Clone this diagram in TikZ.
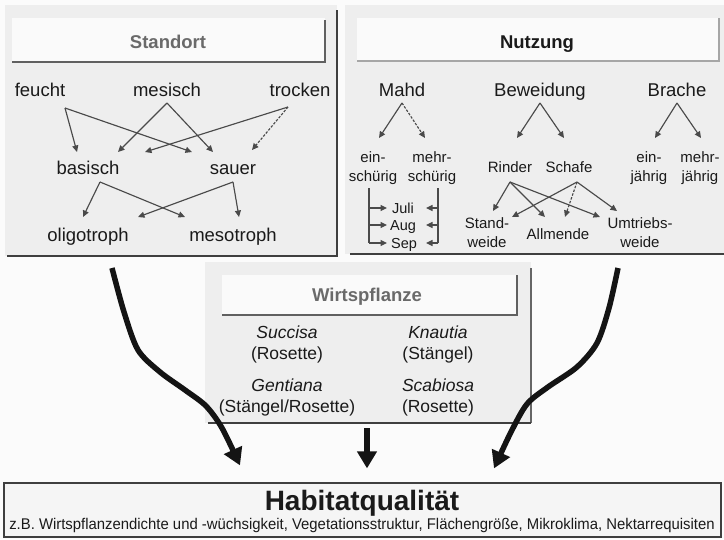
\documentclass[tikz,border=0pt]{standalone}
\usepackage{fontspec}
\setmainfont{Liberation Sans}
\usetikzlibrary{arrows.meta,calc}
\definecolor{bgc}{HTML}{FBFBFB}
\definecolor{panel}{HTML}{EEEEEE}
\definecolor{tbox}{HTML}{FAFAFA}
\definecolor{txt}{HTML}{1A1A1A}
\definecolor{arrc}{HTML}{4A4A4A}
\definecolor{edge}{HTML}{3F3F3F}
\definecolor{gtitle}{HTML}{6A6A6A}
\begin{document}
\begin{tikzpicture}[x=1pt,y=-1pt,
 lbl/.style={inner sep=0pt, text height=13.5pt, text depth=0pt, font=\fontsize{18.5}{22}\selectfont, text=txt},
 sml/.style={inner sep=0pt, align=center, font=\fontsize{15}{19}\selectfont, text=txt},
 smid/.style={inner sep=0pt, text height=11pt, text depth=0pt, font=\fontsize{15}{19}\selectfont, text=txt},
 tny/.style={inner sep=0pt, text height=10.5pt, text depth=0pt, font=\fontsize{14.5}{16}\selectfont, text=txt},
 spec/.style={inner sep=0pt, align=center, font=\fontsize{17.5}{21}\selectfont, text=txt},
 ttl/.style={inner sep=0pt, text height=13.5pt, text depth=0pt, font=\fontsize{18.5}{22}\selectfont\bfseries},
 arr/.style={draw=arrc, line width=1.15pt, -{Triangle[length=6.5pt,width=6pt]}},
 darr/.style={arr, dash pattern=on 2.5pt off 1.5pt},
 brk/.style={draw=arrc, line width=1.15pt},
 shadow/.style={draw=edge, line width=1.3pt},
 lshadow/.style={draw=gray!70, line width=1.1pt},
 big/.style={draw=black!92, line width=5.5pt, -{Triangle[length=17pt,width=19pt]}}
]
\fill[bgc] (0,0) rectangle (724,539);
\useasboundingbox (0,0) rectangle (724,539);

% ---------- Standort panel ----------
\fill[panel] (5,5) rectangle (337,256);
\draw[shadow] (337,10) -- (337,256) -- (7,256);
\fill[tbox] (12,18) rectangle (325,62);
\draw[shadow,draw=gray!75!black] (325,20) -- (325,62) -- (12,62);
\node[ttl, text=gtitle] (standort) at (168,42) {Standort};

\node[lbl] (feucht) at (40,90) {feucht};
\node[lbl] (mesisch) at (167,90) {mesisch};
\node[lbl] (trocken) at (300,90) {trocken};
\node[lbl] (basisch) at (88,168) {basisch};
\node[lbl] (sauer) at (233,168) {sauer};
\node[lbl] (oligo) at (88,235) {oligotroph};
\node[lbl] (meso) at (233,235) {mesotroph};

\draw[arr] ($(feucht.center)+(25,18)$) -- ($(basisch.center)+(-11,-16)$);
\draw[arr] ($(feucht.center)+(25,18)$) -- ($(sauer.center)+(-41,-16)$);
\draw[arr] ($(mesisch.center)+(0,13)$) -- ($(basisch.center)+(30,-16)$);
\draw[arr] ($(mesisch.center)+(0,13)$) -- ($(sauer.center)+(-20,-16)$);
\draw[arr] ($(trocken.center)+(-12,17)$) -- ($(basisch.center)+(57,-16)$);
\draw[darr] ($(trocken.center)+(-12,17)$) -- ($(sauer.center)+(19,-18)$);
\draw[arr] ($(basisch.center)+(12,14)$) -- ($(oligo.center)+(-5,-18)$);
\draw[arr] ($(basisch.center)+(12,14)$) -- ($(meso.center)+(-48,-18)$);
\draw[arr] ($(sauer.center)+(0,14)$) -- ($(meso.center)+(6,-18)$);
\draw[arr] ($(sauer.center)+(0,14)$) -- ($(oligo.center)+(50,-18)$);

% ---------- Nutzung panel ----------
\fill[panel] (345,5) rectangle (724,254);
\draw[shadow] (350,254) -- (724,254);
\fill[tbox] (357,18) rectangle (719,61);
\draw[lshadow] (719,18) -- (719,61) -- (357,61);
\node[ttl, text=txt] (nutzung) at (537,42) {Nutzung};

\node[lbl] (mahd) at (402,90) {Mahd};
\node[lbl] (bew) at (540,90) {Beweidung};
\node[lbl] (brache) at (677,90) {Brache};

\node[sml] (einsch) at (373,168) {ein-\\schürig};
\node[sml] (mehrsch) at (432,168) {mehr-\\schürig};
\node[smid] (rinder) at (510,167) {Rinder};
\node[smid] (schafe) at (569,167) {Schafe};
\node[sml] (einj) at (649,168) {ein-\\jährig};
\node[sml] (mehrj) at (700,168) {mehr-\\jährig};

\draw[arr] ($(mahd.center)+(0,13)$) -- ($(einsch.center)+(6,-30)$);
\draw[darr] ($(mahd.center)+(0,13)$) -- ($(mehrsch.center)+(-7,-30)$);
\draw[arr] ($(bew.center)+(0,13)$) -- ($(rinder.center)+(7,-29)$);
\draw[arr] ($(bew.center)+(0,13)$) -- ($(schafe.center)+(-5,-29)$);
\draw[arr] ($(brache.center)+(0,13)$) -- ($(einj.center)+(6,-30)$);
\draw[arr] ($(brache.center)+(0,13)$) -- ($(mehrj.center)+(1,-30)$);

\node[tny] (juli) at (403,208) {Juli};
\node[tny] (aug) at (403,225) {Aug};
\node[tny] (sep) at (404,243) {Sep};

\draw[brk] ($(einsch.center)+(-4,20)$) -- ($(sep.center)+(-35,0)$);
\draw[arr] ($(juli.center)+(-34,0)$) -- ($(juli.center)+(-16,0)$);
\draw[arr] ($(aug.center)+(-34,0)$) -- ($(aug.center)+(-16,0)$);
\draw[arr] ($(sep.center)+(-35,0)$) -- ($(sep.center)+(-17,0)$);
\draw[brk] ($(mehrsch.center)+(6,20)$) -- ($(sep.center)+(34,0)$);
\draw[arr] ($(juli.center)+(35,0)$) -- ($(juli.center)+(23,0)$);
\draw[arr] ($(aug.center)+(35,0)$) -- ($(aug.center)+(23,0)$);
\draw[arr] ($(sep.center)+(34,0)$) -- ($(sep.center)+(22,0)$);

\node[sml] (stand) at (487,233) {Stand-\\weide};
\node[smid] (allm) at (558,234) {Allmende};
\node[sml] (umtr) at (640,233) {Umtriebs-\\weide};

\draw[arr] ($(rinder.center)+(0,15)$) -- ($(stand.center)+(6,-22)$);
\draw[arr] ($(rinder.center)+(0,15)$) -- ($(allm.center)+(-13,-17)$);
\draw[arr] ($(rinder.center)+(0,15)$) -- ($(umtr.center)+(-40,-16)$);
\draw[arr] ($(schafe.center)+(8,15)$) -- ($(stand.center)+(25,-16)$);
\draw[darr] ($(schafe.center)+(8,15)$) -- ($(allm.center)+(7,-17)$);
\draw[arr] ($(schafe.center)+(8,15)$) -- ($(umtr.center)+(-23,-22)$);

% ---------- Wirtspflanze panel ----------
\fill[panel] (205,262) rectangle (531,423);
\draw[shadow,draw=gray!80!black] (531,268) -- (531,423);
\draw[shadow] (531,423) -- (208,423);
\fill[tbox] (222,275) rectangle (517,315);
\draw[shadow,draw=gray!75!black] (517,275) -- (517,315) -- (222,315);
\node[ttl, text=gtitle] (wirt) at (367,295) {Wirtspflanze};

\node[spec] (succisa) at (287,344) {\textit{Succisa}\\(Rosette)};
\node[spec] (knautia) at (438,344) {\textit{Knautia}\\(Stängel)};
\node[spec] (gentiana) at (287,397) {\textit{Gentiana}\\(Stängel/Rosette)};
\node[spec] (scabiosa) at (438,397) {\textit{Scabiosa}\\(Rosette)};

% ---------- Habitatqualitaet ----------
\node[draw=edge, line width=1.2pt, fill=panel!60!white, minimum width=717pt, minimum height=54pt, inner sep=0pt] (habitat) at (362.5,510) {};
\node[inner sep=0pt, text height=20pt, text depth=0pt, font=\fontsize{28}{30}\selectfont\bfseries, text=txt] (hq) at (362,500) {Habitatqualität};
\node[inner sep=0pt, text height=11pt, text depth=0pt, font=\fontsize{15.5}{16}\selectfont, text=txt] (hsub) at (362,524) {\scalebox{0.96}[1]{z.B. Wirtspflanzendichte und -wüchsigkeit, Vegetationsstruktur, Flächengröße, Mikroklima, Nektarrequisiten}};

% ---------- big arrows ----------
\coordinate (lstart) at (112,268);
\coordinate (rstart) at (618,268);
\draw[big] plot[smooth, tension=0.5] coordinates {(lstart) (124,312) (138,350) (160,372) (185,390) (206,406) (222,428) ($(habitat.north)+(-122.5,-17)$)};
\draw[big] plot[smooth, tension=0.5] coordinates {(rstart) (609,308) (597,343) (577,367) (548,387) (527,404) (511,432) ($(habitat.north)+(131.5,-14)$)};
\draw[big] ($(wirt.center)+(0,133)$) -- ($(habitat.north)+(4.5,-14)$);
\end{tikzpicture}
\end{document}
